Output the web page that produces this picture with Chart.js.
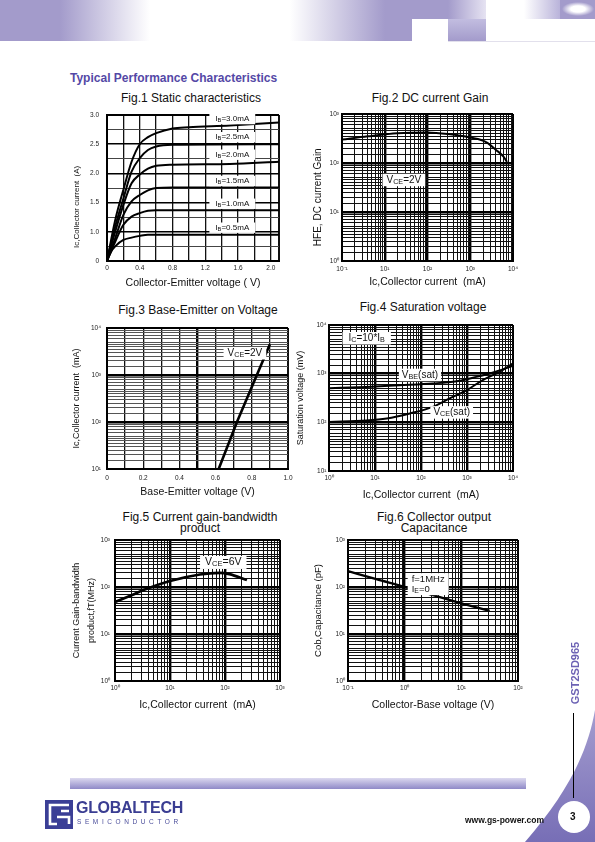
<!DOCTYPE html>
<html>
<head>
<meta charset="utf-8">
<title>GST2SD965 - Typical Performance Characteristics</title>
<script src="https://cdn.jsdelivr.net/npm/chart.js@4.4.1/dist/chart.umd.min.js"></script>
<style>
  body { margin: 0; background: #fff; }
  #page { position: relative; width: 595px; height: 842px; overflow: hidden; background: #fff;
          font-family: 'Liberation Sans', Arial, sans-serif; color: #111; }
  .abs { position: absolute; }
  canvas { position: absolute; }
  .fig-title { position: absolute; transform: translate(-50%, -50%); font-size: 12px; line-height: 11px;
               white-space: nowrap; text-align: center; }
  .heading { position: absolute; left: 70px; top: 71px; font-size: 12px; font-weight: bold; color: #5448a6; }
</style>
</head>
<body>
<div id="page">
  <!-- header band -->
  <div class="abs" style="left:0;top:0;width:412px;height:41px;background:linear-gradient(90deg,#a39bcb 0,#a39bcb 60px,#fff 150px,#fff 290px,#a39bcb 385px)"></div>
  <div class="abs" style="left:412px;top:0;width:36px;height:19px;background:#a39bcb"></div>
  <div class="abs" style="left:448px;top:0;width:38px;height:19px;background:linear-gradient(90deg,#a39bcb,#e6e3f2)"></div>
  <div class="abs" style="left:448px;top:19px;width:38px;height:22px;background:linear-gradient(180deg,#c2bde0,#a39bcb)"></div>
  <div class="abs" style="left:524px;top:0;width:36px;height:19px;background:linear-gradient(90deg,#fff,#b9b3da)"></div>
  <div class="abs" style="left:560px;top:0;width:35px;height:19px;background:radial-gradient(ellipse 16px 7px at 18px 9px,#fff 45%,#a39bcb 100%)"></div>
  <div class="abs" style="left:448px;top:41px;width:147px;height:1px;background:#e2e0ec"></div>

  <div class="heading">Typical Performance Characteristics</div>

  <div class="fig-title" style="left:191px;top:98px">Fig.1 Static characteristics</div>
  <div class="fig-title" style="left:430px;top:98px">Fig.2 DC current Gain</div>
  <div class="fig-title" style="left:198px;top:310px">Fig.3 Base-Emitter on Voltage</div>
  <div class="fig-title" style="left:423px;top:307px">Fig.4 Saturation voltage</div>
  <div class="fig-title" style="left:200px;top:523px">Fig.5 Current gain-bandwidth<br>product</div>
  <div class="fig-title" style="left:434px;top:523px">Fig.6 Collector output<br>Capacitance</div>

  <canvas id="fig1" width="230" height="190" style="left:60px;top:105px"></canvas>
  <canvas id="fig2" width="225" height="191" style="left:300px;top:104px"></canvas>
  <canvas id="fig3" width="238" height="187" style="left:60px;top:318px"></canvas>
  <canvas id="fig4" width="233" height="190" style="left:292px;top:315px"></canvas>
  <canvas id="fig5" width="232" height="188" style="left:60px;top:530px"></canvas>
  <canvas id="fig6" width="225" height="188" style="left:305px;top:530px"></canvas>

  <!-- right side / footer -->
  <svg class="abs" style="left:0;top:0" width="595" height="842">
    <defs>
      <linearGradient id="sweep" x1="0" y1="0" x2="0" y2="1">
        <stop offset="0" stop-color="#a49dcf"/>
        <stop offset="1" stop-color="#776eb6"/>
      </linearGradient>
    </defs>
    <path d="M595 710 C588 750 570 790 525 842 L595 842 Z" fill="url(#sweep)"/>
    <circle cx="574" cy="817" r="16" fill="#fff"/>
    <line x1="573.5" y1="713" x2="573.5" y2="798" stroke="#000" stroke-width="1"/>
  </svg>
  <div class="abs" style="left:575px;top:673px;transform:translate(-50%,-50%) rotate(-90deg);font-size:11px;font-weight:bold;color:#6c62b4;white-space:nowrap">GST2SD965</div>

  <div class="abs" style="left:70px;top:778px;width:456px;height:11px;background:linear-gradient(180deg,#dcd9ef,#8f89c7)"></div>

  <svg class="abs" style="left:45px;top:800px" width="28" height="29" viewBox="0 0 28 29">
    <rect width="28" height="29" fill="#3b3f96"/>
    <path d="M24 5 H5 V24 H12 M12 17 H24 V24 M16 11 H24" stroke="#fff" stroke-width="2.6" fill="none"/>
  </svg>
  <div class="abs" style="left:76px;top:799px;font-size:16px;font-weight:bold;color:#3a3d92;letter-spacing:-0.3px">GLOBALTECH</div>
  <div class="abs" style="left:77px;top:818px;font-size:6.5px;color:#4a4d9a;letter-spacing:3.6px">SEMICONDUCTOR</div>
  <div class="abs" style="left:465px;top:815px;font-size:8.5px;font-weight:bold;color:#111">www.gs-power.com</div>
  <div class="abs" style="left:570px;top:811px;font-size:10px;font-weight:bold;color:#111">3</div>
</div>

<script>
const FONT = "'Liberation Sans', Arial, sans-serif"

// ---------- Fig.1 static characteristics (Vce in V, Ic as printed on the axis) ----------
const vceIb30 = [0, 0.1, 0.2, 0.3, 0.4, 0.5, 0.6, 0.8, 1.0, 1.5, 2.1]
const icIb30  = [0.5, 1.2, 1.72, 2.2, 2.5, 2.62, 2.69, 2.77, 2.79, 2.82, 2.87]
const vceIb25 = [0, 0.1, 0.2, 0.3, 0.4, 0.5, 0.6, 0.8, 2.1]
const icIb25  = [0.5, 1.09, 1.57, 2.03, 2.26, 2.4, 2.46, 2.49, 2.5]
const vceIb20 = [0, 0.1, 0.2, 0.3, 0.4, 0.5, 0.6, 0.8, 1.5, 2.1]
const icIb20  = [0.5, 1.0, 1.46, 1.83, 1.98, 2.08, 2.13, 2.15, 2.16, 2.2]
const vceIb15 = [0, 0.1, 0.2, 0.3, 0.4, 0.5, 0.6, 0.8, 2.1]
const icIb15  = [0.5, 0.89, 1.29, 1.52, 1.63, 1.71, 1.75, 1.76, 1.76]
const vceIb10 = [0, 0.1, 0.2, 0.3, 0.4, 0.5, 0.6, 2.1]
const icIb10  = [0.5, 0.83, 1.12, 1.26, 1.32, 1.36, 1.37, 1.37]
const vceIb05 = [0, 0.05, 0.1, 0.2, 0.3, 0.4, 0.5, 2.1]
const icIb05  = [0.5, 0.66, 0.75, 0.86, 0.9, 0.93, 0.95, 0.95]
const fig1XTicks = ['0', '0.4', '0.8', '1.2', '1.6', '2.0']
const fig1YTicks = ['0', '1.0', '1.5', '2.0', '2.5', '3.0']
const ibLabels = ['I_{B}=3.0mA', 'I_{B}=2.5mA', 'I_{B}=2.0mA', 'I_{B}=1.5mA', 'I_{B}=1.0mA', 'I_{B}=0.5mA']

// ---------- Fig.2 DC current gain ----------
const icHfe = [1, 4, 20, 100, 300, 1000, 2400, 4000, 6000, 7200]
const hfe   = [300, 350, 405, 420, 390, 330, 265, 185, 135, 105]
const fig2XTicks = ['10\u207B\u00B9', '10\u00B9', '10\u00B2', '10\u00B3', '10\u2074']

// ---------- Fig.3 base-emitter on voltage ----------
const vbeOn = [0.617, 0.718, 0.828, 0.9]
const icOn  = [10, 100, 1000, 4500]
const fig3XTicks = ['0', '0.2', '0.4', '0.6', '0.8', '1.0']

// ---------- Fig.4 saturation voltage ----------
const icBeSat = [1, 6.5, 34, 180, 600, 1600, 3700, 10000]
const vbeSat  = [500, 535, 580, 630, 700, 860, 1060, 1450]
const icCeSat = [1, 6.5, 18, 57, 180, 420, 1000, 2200, 5100, 10000]
const vceSat  = [102, 109, 120, 152, 208, 310, 460, 740, 1090, 1620]

// ---------- Fig.5 current gain-bandwidth product ----------
const icFt = [1, 2, 3.3, 10, 35, 80, 120, 250]
const fT   = [48, 67, 86, 134, 185, 200, 188, 140]

// ---------- Fig.6 collector output capacitance ----------
const vcbCob = [0.1, 0.316, 1, 3.16, 10, 31.6]
const cob    = [218, 147, 101, 67, 45, 31]

const sup = ['\u2070', '\u00B9', '\u00B2', '\u00B3', '\u2074']
const decadeLabel = e => '10' + (e < 0 ? '\u207B' + sup[-e] : sup[e])

Chart.defaults.font.family = FONT
Chart.defaults.color = '#111'

// grid values of a log axis: 1..9 (or a denser set) in every decade
const logGrid = (e0, e1, mant) => {
  const out = []
  for (let e = e0; e < e1; e++) mant.forEach(m => out.push(+(m * Math.pow(10, e)).toPrecision(6)))
  out.push(Math.pow(10, e1))
  return out
}
const decades = (e0, e1) => { const out = []; for (let e = e0; e <= e1; e++) out.push(Math.pow(10, e)); return out }
const isDecade = v => Math.abs(Math.log10(v) - Math.round(Math.log10(v))) < 1e-6
const MANT_X = [1, 2, 3, 4, 5, 6, 7, 8, 9]
const MANT_Y = [1, 1.5, 2, 2.5, 3, 3.5, 4, 4.5, 5, 6, 7, 8, 9]
const steps = (a, b, d) => { const out = []; for (let v = a; v <= b + 1e-9; v += d) out.push(+v.toFixed(4)); return out }
const pts = (xs, ys) => xs.map((x, i) => ({x, y: ys[i]}))
const same = (a, b) => Math.abs(a - b) <= 1e-9 * Math.max(1, Math.abs(a))

// ---- text boxes (Vce=2V etc.), with simple _{..} subscripts ----
const richParts = str => str.split(/(_\{[^}]*\})/).filter(s => s).map(s =>
  s.startsWith('_{') ? {t: s.slice(2, -1), sub: true} : {t: s, sub: false})
const richWidth = (ctx, str, size) => richParts(str).reduce((w, p) => {
  ctx.font = `${p.sub ? size * 0.72 : size}px ${FONT}`
  return w + ctx.measureText(p.t).width
}, 0)
const drawRich = (ctx, str, x, y, size) => {
  richParts(str).forEach(p => {
    ctx.font = `${p.sub ? size * 0.72 : size}px ${FONT}`
    ctx.fillText(p.t, x, p.sub ? y + size * 0.18 : y)
    x += ctx.measureText(p.t).width
  })
}
const notes = {
  id: 'notes',
  afterDatasetsDraw(chart, args, opts) {
    const {ctx} = chart
    const xs = chart.scales.x, ys = chart.scales.y
    for (const n of opts.items || []) {
      const size = n.size, lh = size * 1.05
      const padX = n.padX ?? 5, padY = n.padY ?? 1
      const widths = n.lines.map(l => richWidth(ctx, l, size))
      const w = Math.max(...widths) + 2 * padX
      const h = lh * n.lines.length + 2 * padY
      const cx = xs.getPixelForValue(n.x), cy = ys.getPixelForValue(n.y)
      ctx.save()
      ctx.fillStyle = '#fff'
      ctx.fillRect(cx - w / 2, cy - h / 2, w, h)
      ctx.fillStyle = '#111'
      ctx.textBaseline = 'middle'
      ctx.textAlign = 'left'
      n.lines.forEach((l, i) => {
        const ly = cy - h / 2 + padY + lh * (i + 0.5)
        const lx = n.align === 'left' ? cx - w / 2 + padX : cx - widths[i] / 2
        drawRich(ctx, l, lx, ly, size)
      })
      ctx.restore()
    }
  }
}

function scaleOpts(s) {
  return {
    type: s.type, min: s.min, max: s.max,
    afterBuildTicks: sc => { sc.ticks = s.grid.map(v => ({value: v})) },
    afterFit: sc => {
      if (sc.isHorizontal()) sc.height = s.size; else sc.width = s.size
      sc.paddingLeft = sc.paddingRight = sc.paddingTop = sc.paddingBottom = 0
    },
    ticks: {
      autoSkip: false, maxRotation: 0, minRotation: 0, padding: s.tickPad,
      font: {size: 6.5}, color: '#222',
      callback: v => { const k = s.labelAt.findIndex(a => same(a, v)); return k < 0 ? '' : s.labels[k] }
    },
    grid: {
      drawTicks: false,
      color: c => (!c.tick || s.heavy(c.tick.value)) ? '#000' : (s.minorColor || '#111'),
      lineWidth: c => {
        if (!c.tick) return 1
        const v = c.tick.value
        if (same(v, s.min) || same(v, s.max)) return 2
        return s.heavy(v) ? (s.heavyW || 1.6) : (s.lightW || 1)
      }
    },
    border: {display: true, color: '#000', width: 2},
    title: {
      display: true, text: s.title, color: '#111',
      font: {size: s.titleSize, lineHeight: s.titleLH || 1.2},
      padding: s.type && s.size && s.isX ? {top: 0, bottom: s.titlePad} : {top: s.titlePad, bottom: s.titlePad}
    }
  }
}

function drawFig(id, f) {
  return new Chart(document.getElementById(id), {
    type: 'line',
    data: {
      datasets: f.series.map(s => ({
        data: s.data, borderColor: '#000', borderWidth: s.width || 2, pointRadius: 0, fill: false,
        tension: s.straight ? 0 : 0.4, cubicInterpolationMode: s.straight ? 'default' : 'monotone'
      }))
    },
    options: {
      responsive: false, animation: false, devicePixelRatio: 1,
      layout: {padding: {top: f.padTop, right: f.padRight, left: 0, bottom: 0}},
      plugins: {legend: {display: false}, tooltip: {enabled: false}, notes: {items: f.notes}},
      scales: {x: scaleOpts(Object.assign({isX: true}, f.x)), y: scaleOpts(f.y)}
    },
    plugins: [notes]
  })
}

// Fig.1
drawFig('fig1', {
  padTop: 10, padRight: 11,
  x: {type: 'linear', min: 0, max: 2.1, grid: steps(0, 2.0, 0.2).concat([2.1]),
      labelAt: [0, 0.4, 0.8, 1.2, 1.6, 2.0], labels: fig1XTicks, heavy: () => false, lightW: 1.3,
      size: 34, tickPad: 3, title: 'Collector-Emitter voltage ( V)', titleSize: 10.5, titlePad: 5.4},
  y: {type: 'linear', min: 0.5, max: 3.0, grid: steps(0.5, 3.0, 0.25),
      labelAt: [0.5, 1.0, 1.5, 2.0, 2.5, 3.0], labels: fig1YTicks, heavy: v => same(v * 2, Math.round(v * 2)), minorColor: '#444',
      size: 47, tickPad: 8, title: 'Ic,Collector current  (A)' + ' '.repeat(17), titleSize: 8, titlePad: 12},
  series: [
    {data: pts(vceIb30, icIb30)}, {data: pts(vceIb25, icIb25)}, {data: pts(vceIb20, icIb20)},
    {data: pts(vceIb15, icIb15)}, {data: pts(vceIb10, icIb10)}, {data: pts(vceIb05, icIb05)}
  ],
  notes: ibLabels.map((t, i) => ({x: 1.53, y: [2.93, 2.62, 2.32, 1.87, 1.48, 1.07][i], lines: [t], size: 8, padX: 6}))
})

// Fig.2
drawFig('fig2', {
  padTop: 10, padRight: 12,
  x: {type: 'logarithmic', min: 1, max: 1e4, grid: logGrid(0, 4, MANT_X),
      labelAt: decades(0, 4), labels: fig2XTicks, heavy: isDecade, heavyW: 2.4,
      size: 34, tickPad: 4, title: 'Ic,Collector current  (mA)', titleSize: 10.5, titlePad: 7},
  y: {type: 'logarithmic', min: 1, max: 1e3, grid: logGrid(0, 3, MANT_Y),
      labelAt: decades(0, 3), labels: [0, 1, 2, 3].map(decadeLabel), heavy: isDecade, heavyW: 2.4,
      size: 42, tickPad: 3, title: 'HFE, DC current Gain' + ' '.repeat(7), titleSize: 10, titlePad: 12.3},
  series: [{data: pts(icHfe, hfe)}],
  notes: [{x: 28, y: 45, lines: ['V_{CE}=2V'], size: 10, padX: 4}]
})

// Fig.3
drawFig('fig3', {
  padTop: 10, padRight: 10,
  x: {type: 'linear', min: 0, max: 1.0, grid: steps(0, 1.0, 0.1),
      labelAt: [0, 0.2, 0.4, 0.6, 0.8, 1.0], labels: fig3XTicks, heavy: v => same(v, 0.5), heavyW: 2.4, lightW: 1.3,
      size: 36, tickPad: 5, title: 'Base-Emitter voltage (V)', titleSize: 10.5, titlePad: 7},
  y: {type: 'logarithmic', min: 10, max: 1e4, grid: logGrid(1, 4, MANT_Y),
      labelAt: decades(1, 4), labels: [1, 2, 3, 4].map(decadeLabel), heavy: isDecade, heavyW: 2.4, minorColor: '#555',
      size: 47, tickPad: 6, title: 'Ic,Collector current  (mA)', titleSize: 9, titlePad: 11.3},
  series: [{data: pts(vbeOn, icOn), width: 2.6, straight: true}],
  notes: [{x: 0.762, y: 2900, lines: ['V_{CE}=2V'], size: 10, padX: 4}]
})

// Fig.4
drawFig('fig4', {
  padTop: 10, padRight: 12,
  x: {type: 'logarithmic', min: 1, max: 1e4, grid: logGrid(0, 4, MANT_X),
      labelAt: decades(0, 4), labels: [0, 1, 2, 3, 4].map(decadeLabel), heavy: isDecade, heavyW: 2.4,
      size: 34, tickPad: 3, title: 'Ic,Collector current  (mA)', titleSize: 10.5, titlePad: 3.7},
  y: {type: 'logarithmic', min: 10, max: 1e4, grid: logGrid(1, 4, MANT_Y),
      labelAt: decades(1, 4), labels: [1, 2, 3, 4].map(decadeLabel), heavy: isDecade, heavyW: 2.4,
      size: 37, tickPad: 2.5, title: 'Saturation voltage (mV)', titleSize: 9, titlePad: 3.6},
  series: [{data: pts(icBeSat, vbeSat)}, {data: pts(icCeSat, vceSat)}],
  notes: [
    {x: 6.6, y: 5340, lines: ['I_{C}=10*I_{B}'], size: 10, padX: 6},
    {x: 95, y: 940, lines: ['V_{BE}(sat)'], size: 10, padX: 3},
    {x: 465, y: 160, lines: ['V_{CE}(sat)'], size: 10, padX: 3}
  ]
})

// Fig.5
drawFig('fig5', {
  padTop: 10, padRight: 12,
  x: {type: 'logarithmic', min: 1, max: 1e3, grid: logGrid(0, 3, MANT_X),
      labelAt: decades(0, 3), labels: [0, 1, 2, 3].map(decadeLabel), heavy: isDecade, heavyW: 2.4,
      size: 37, tickPad: 3, title: 'Ic,Collector current  (mA)', titleSize: 10.5, titlePad: 6.7},
  y: {type: 'logarithmic', min: 1, max: 1e3, grid: logGrid(0, 3, MANT_Y),
      labelAt: decades(0, 3), labels: [0, 1, 2, 3].map(decadeLabel), heavy: isDecade, heavyW: 2.4,
      size: 55, tickPad: 5, title: ['Current Gain-bandwidth', 'product,fT(MHz)'], titleSize: 9, titleLH: 1.667, titlePad: 9.2},
  series: [{data: pts(icFt, fT), width: 2.6}],
  notes: [{x: 93, y: 333, lines: ['V_{CE}=6V'], size: 10.5, padX: 5}]
})

// Fig.6
drawFig('fig6', {
  padTop: 10, padRight: 12,
  x: {type: 'logarithmic', min: 0.1, max: 100, grid: logGrid(-1, 2, MANT_X),
      labelAt: decades(-1, 2), labels: [-1, 0, 1, 2].map(decadeLabel), heavy: isDecade, heavyW: 2.4,
      size: 37, tickPad: 3, title: 'Collector-Base voltage (V)', titleSize: 10.5, titlePad: 6.7},
  y: {type: 'logarithmic', min: 1, max: 1e3, grid: logGrid(0, 3, MANT_Y),
      labelAt: decades(0, 3), labels: [0, 1, 2, 3].map(decadeLabel), heavy: isDecade, heavyW: 2.4,
      size: 43, tickPad: 3, title: 'Cob,Capacitance (pF)', titleSize: 9.5, titlePad: 7.6},
  series: [{data: pts(vcbCob, cob), width: 2.4}],
  notes: [{x: 2.6, y: 115, lines: ['f=1MHz', 'I_{E}=0'], size: 9.5, padX: 4, align: 'left'}]
})
</script>
</body>
</html>
